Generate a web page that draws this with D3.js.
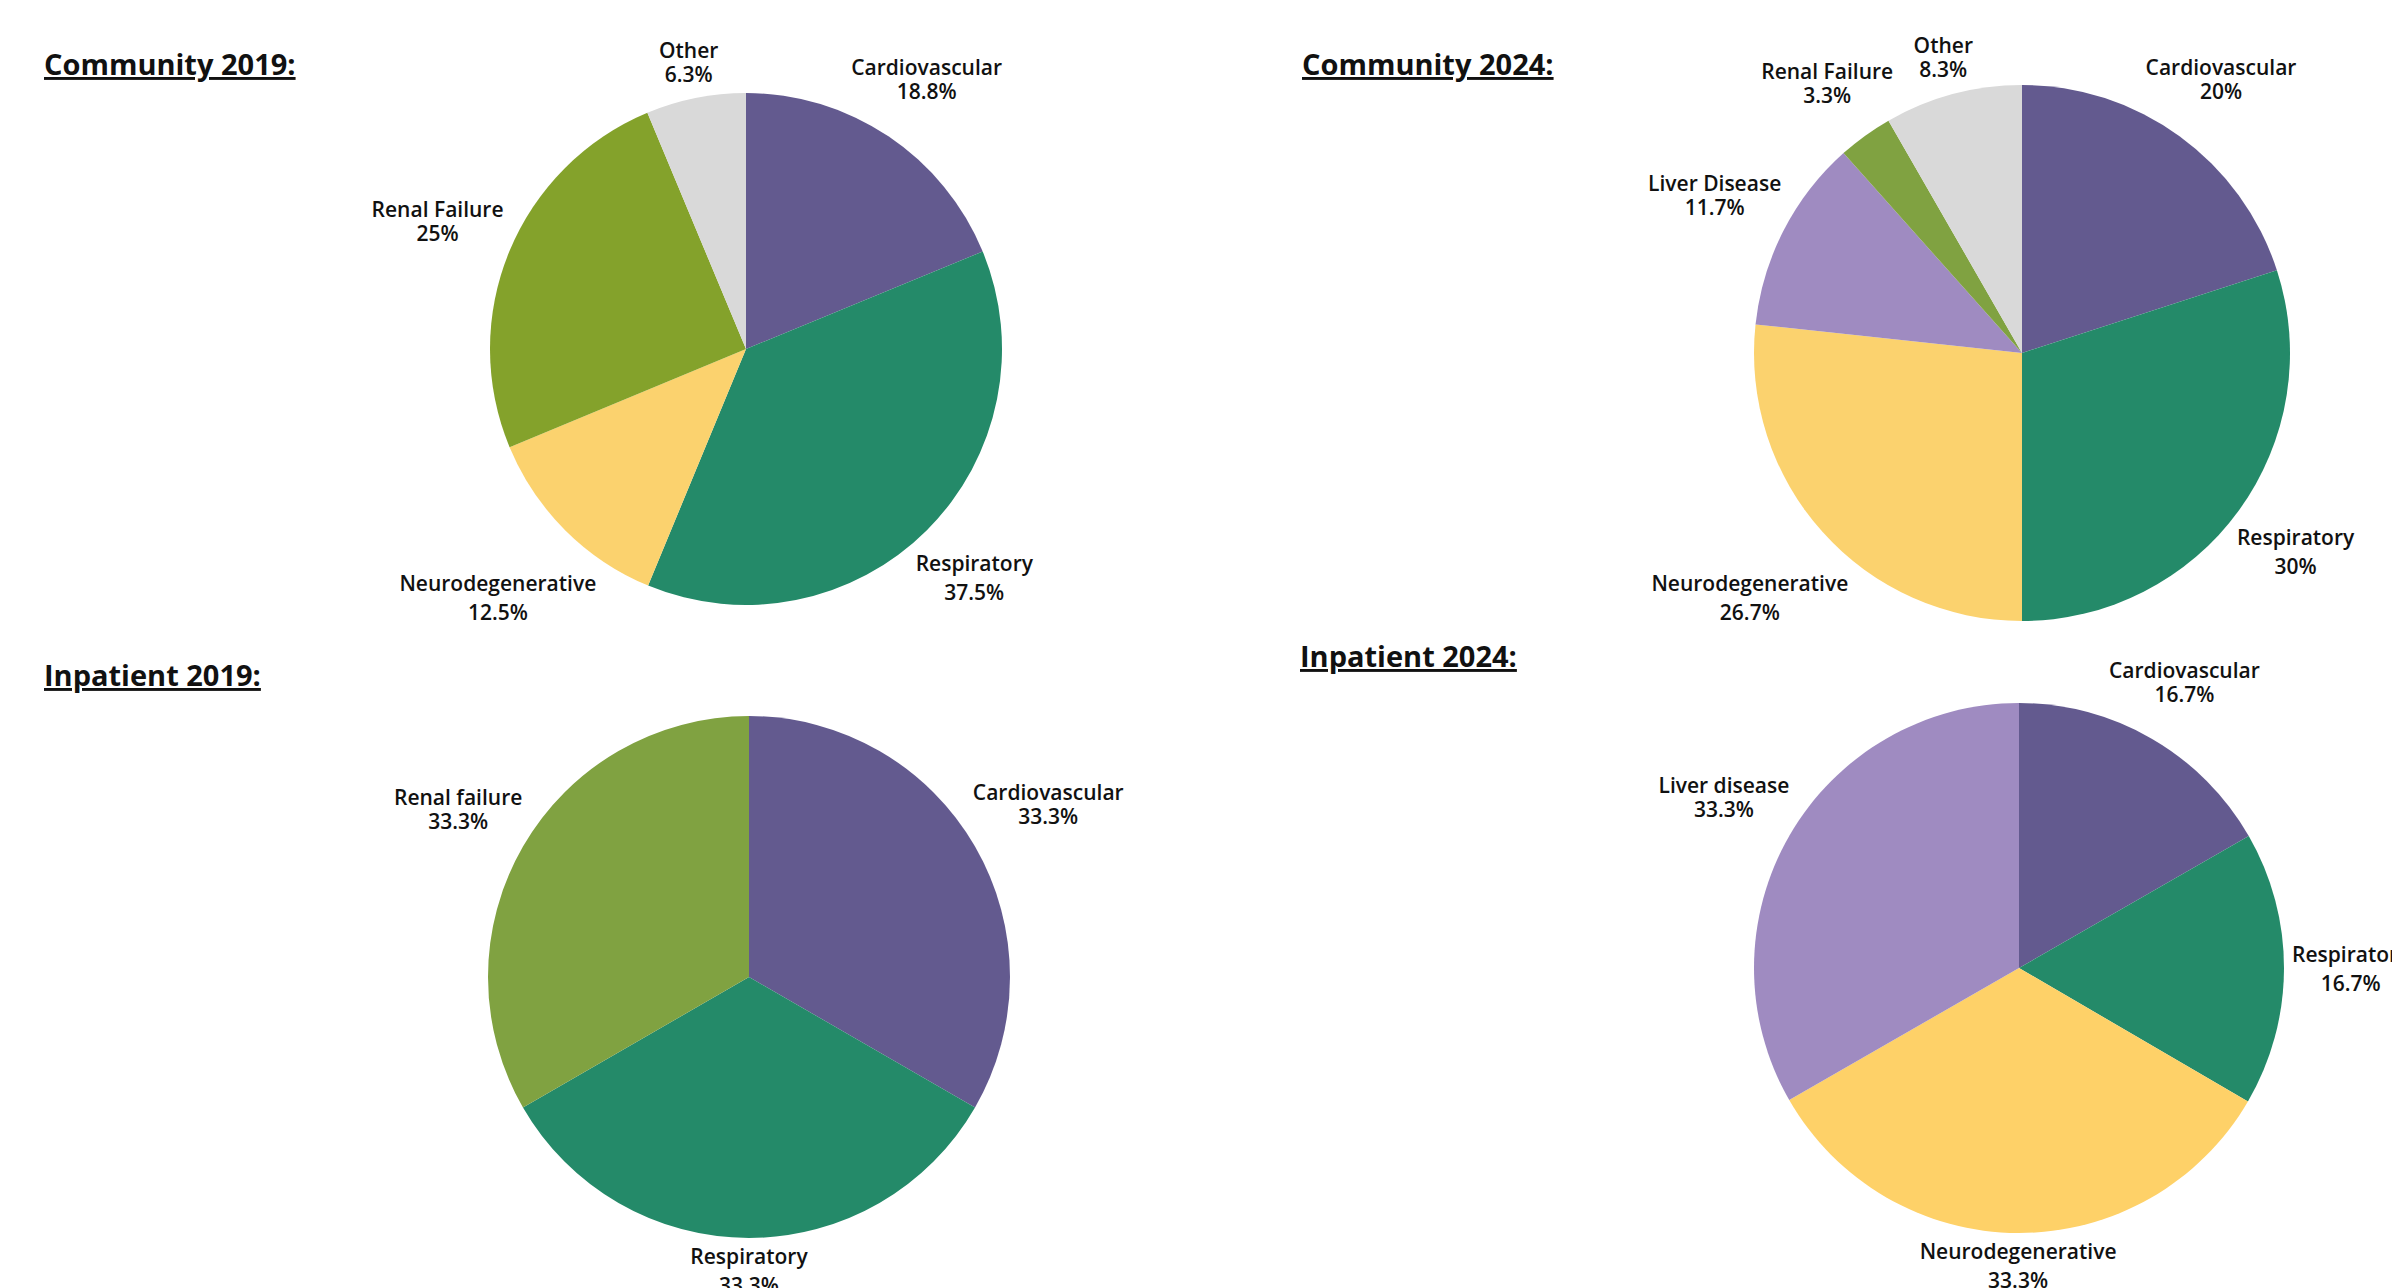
<!DOCTYPE html>
<meta charset="utf-8" />
<script src="https://d3js.org/d3.v7.min.js"></script>
<style>
    body { margin: 0; background: #fff; }
    text { font-family: 'Open Sans', sans-serif; fill: #111; }
</style>
<div id="my_dataviz"></div>

<script>
    // data (percent of deaths by cause)
    const community2019Causes = ['Cardiovascular', 'Respiratory', 'Neurodegenerative', 'Renal Failure', 'Other']
    const community2019Values = [18.8, 37.5, 12.5, 25, 6.3]

    const community2024Causes = ['Cardiovascular', 'Respiratory', 'Neurodegenerative', 'Liver Disease', 'Renal Failure', 'Other']
    const community2024Values = [20, 30, 26.7, 11.7, 3.3, 8.3]

    const inpatient2019Causes = ['Cardiovascular', 'Respiratory', 'Renal failure']
    const inpatient2019Values = [33.3, 33.3, 33.3]

    const inpatient2024Causes = ['Cardiovascular', 'Respiratory', 'Neurodegenerative', 'Liver disease']
    const inpatient2024Values = [16.7, 16.7, 33.3, 33.3]

    const titles = ['Community 2019:', 'Community 2024:', 'Inpatient 2019:', 'Inpatient 2024:']

    // colours per cause
    const colour = {
        cardiovascular: '#635a8f',
        respiratory: '#248a69',
        neurodegenerative: '#fbd26e',
        'liver disease': '#9f8bc1',
        'renal failure': '#80a241',
        other: '#d9d9d9'
    }

    const width = 2392, height = 1288

    // where each pie sits on the page
    const panels = [
        { causes: community2019Causes, values: community2019Values, title: titles[0], tx: 44, ty: 75, cx: 746, cy: 349, r: 256, over: { 'renal failure': '#84a22b' } },
        { causes: community2024Causes, values: community2024Values, title: titles[1], tx: 1302, ty: 75, cx: 2022, cy: 353, r: 268, over: {} },
        { causes: inpatient2019Causes, values: inpatient2019Values, title: titles[2], tx: 44, ty: 686, cx: 749, cy: 977, r: 261, over: {} },
        { causes: inpatient2024Causes, values: inpatient2024Values, title: titles[3], tx: 1300, ty: 667, cx: 2019, cy: 968, r: 265, over: { neurodegenerative: '#fed168' } }
    ]

    const svg = d3
        .select('#my_dataviz')
        .append('svg')
        .attr('width', width)
        .attr('height', height)

    svg.append('rect').attr('width', width).attr('height', height).attr('fill', '#fff')

    const pie = d3.pie().sort(null).value((d) => d.value)

    panels.forEach(function (p) {
        // title
        svg.append('text')
            .attr('x', p.tx)
            .attr('y', p.ty)
            .attr('font-size', '29px')
            .attr('font-weight', 700)
            .style('text-decoration', 'underline')
            .text(p.title)

        const data = p.causes.map((c, i) => ({ cause: c, value: p.values[i] }))
        const arcs = pie(data)
        const arc = d3.arc().innerRadius(0).outerRadius(p.r)

        const g = svg.append('g').attr('transform', `translate(${p.cx},${p.cy})`)

        g.selectAll('path')
            .data(arcs)
            .join('path')
            .attr('d', arc)
            .attr('fill', (d) => p.over[d.data.cause.toLowerCase()] || colour[d.data.cause.toLowerCase()])

        // labels outside the pie: box centre on the mid-angle ray, box corner just clear of the rim
        const cap = 15
        arcs.forEach(function (d) {
            const a = (d.startAngle + d.endAngle) / 2
            const s = Math.sin(a), c = Math.cos(a)
            const lineGap = c < 0.1 ? 29 : 24
            const lab = g.append('text')
                .attr('font-size', '21px')
                .attr('font-weight', 600)
                .attr('text-anchor', 'middle')
            const l1 = lab.append('tspan').text(d.data.cause)
            const l2 = lab.append('tspan').text(d.data.value + '%')
            const w = Math.max(l1.node().getComputedTextLength(), l2.node().getComputedTextLength())
            const hh = (lineGap + cap) / 2 + 3
            const dist = p.r + 8 + Math.abs(s) * w / 2 + Math.abs(c) * hh
            const x = dist * s
            const y = -dist * c
            const b1 = y - (lineGap - cap) / 2
            l1.attr('x', x).attr('y', b1)
            l2.attr('x', x).attr('y', b1 + lineGap)
        })
    })
</script>
